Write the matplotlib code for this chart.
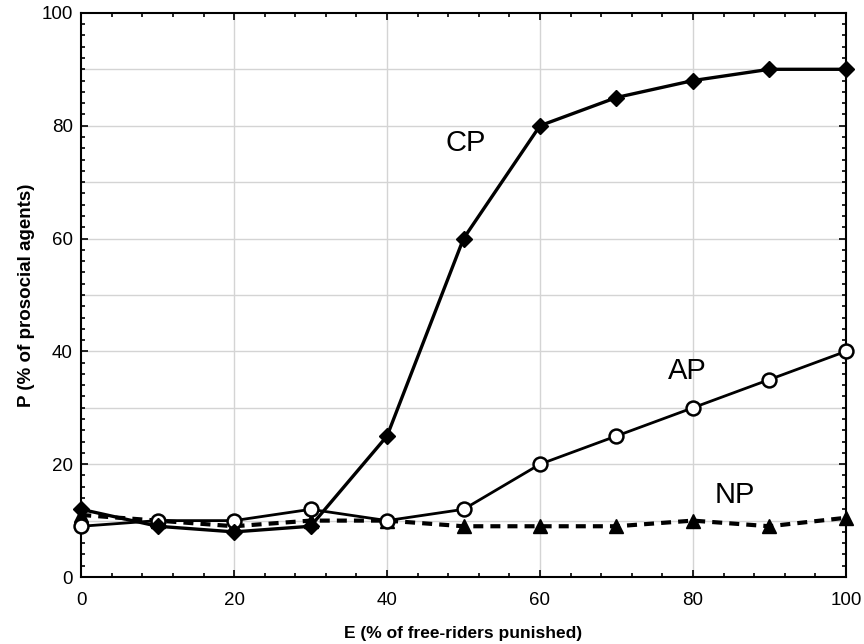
import matplotlib
matplotlib.use("Agg")
from matplotlib import pyplot as plt
from matplotlib.ticker import MultipleLocator

plt.rcParams['font.family'] = ['Liberation Sans', 'DejaVu Sans']

# данные
E = [0, 10, 20, 30, 40, 50, 60, 70, 80, 90, 100]
cp = [12, 9, 8, 9, 25, 60, 80, 85, 88, 90, 90]
ap = [9, 10, 10, 12, 10, 12, 20, 25, 30, 35, 40]
np_ = [11, 10, 9, 10, 10, 9, 9, 9, 10, 9, 10.5]

fig = plt.figure(figsize=(8.64, 6.44), dpi=100)
ax = fig.add_axes([0.094, 0.104, 0.885, 0.876])

ax.plot(E, np_, color='black', lw=3, ls=(0, (2.4, 1.7)), marker='^',
        ms=10, clip_on=False, zorder=3)
ax.plot(E, ap, color='black', lw=2, marker='o', ms=10, mfc='white',
        mew=1.8, clip_on=False, zorder=4)
ax.plot(E, cp, color='black', lw=2.4, marker='D', ms=8.5,
        clip_on=False, zorder=5)

ax.text(50.3, 77, 'CP', fontsize=21, ha='center', va='center')
ax.text(79.3, 36.5, 'AP', fontsize=21, ha='center', va='center')
ax.text(85.5, 14.5, 'NP', fontsize=21, ha='center', va='center')

ax.set_xlim(0, 100)
ax.set_ylim(0, 100)
ax.xaxis.set_major_locator(MultipleLocator(20))
ax.xaxis.set_minor_locator(MultipleLocator(4))
ax.yaxis.set_major_locator(MultipleLocator(20))
ax.yaxis.set_minor_locator(MultipleLocator(2))
ax.tick_params(which='both', direction='in', top=True, right=True,
               labelsize=13.5, width=1.2)
ax.tick_params(which='major', length=5)
ax.tick_params(which='minor', length=3)
ax.tick_params(axis='x', pad=11)
ax.tick_params(axis='y', pad=6)

for v in range(20, 100, 20):
    ax.axvline(v, color='#d4d4d4', lw=1, zorder=0)
for v in range(10, 100, 10):
    ax.axhline(v, color='#d4d4d4', lw=1, zorder=0)

for s in ax.spines.values():
    s.set_linewidth(1.5)

ax.set_xlabel('E (% of free-riders punished)', fontsize=12.5,
              fontweight='bold', labelpad=12)
ax.set_ylabel('P (% of prosocial agents)', fontsize=13.5,
              fontweight='bold', labelpad=5)

fig.savefig('out.png', dpi=100)
